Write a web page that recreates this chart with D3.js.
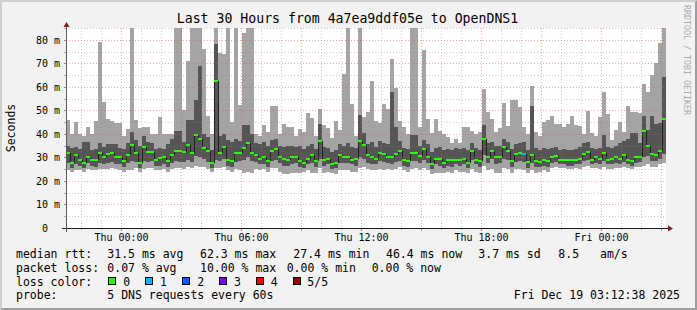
<!DOCTYPE html>
<html><head><meta charset="utf-8">
<script src="https://cdn.jsdelivr.net/npm/d3@7"></script>
<style>
html,body{margin:0;padding:0;background:#f2f2f2;}
svg{display:block;font-family:"DejaVu Sans Mono",monospace;}
</style></head><body>
<svg id="c" width="697" height="310"></svg>
<script>
// ---------------- data ----------------
const titleText = "Last 30 Hours from 4a7ea9ddf05e to OpenDNS1";
const yAxisTitle = "Seconds";
const watermark = "RRDTOOL / TOBI OETIKER";
const startTime = new Date(2025, 11, 17, 21, 12, 38);
const endTime   = new Date(2025, 11, 19, 3, 12, 38);
const firstStep = new Date(2025, 11, 17, 21, 12, 0);
const stepMinutes = 12;
const yTickValues = [0, 10, 20, 30, 40, 50, 60, 70, 80];
const yTickLabels = ["0", "10 m", "20 m", "30 m", "40 m", "50 m", "60 m", "70 m", "80 m"];
const xTickLabels = ["Thu 00:00", "Thu 06:00", "Thu 12:00", "Thu 18:00", "Fri 00:00"];

// rtt values in ms per 12-minute step (values above 85 are clipped off the chart)
const minRtt = [
24.5,24.0,24.5,24.5,24.0,25.0,24.5,24.5,25.0,25.0,
25.0,25.5,25.0,24.5,24.0,24.5,24.5,25.5,24.0,25.0,
25.5,25.5,24.5,24.5,25.0,24.0,25.0,25.5,25.5,25.0,
26.0,25.5,26.5,26.0,26.0,25.0,24.0,25.5,25.5,26.0,
24.5,24.0,25.0,24.5,23.5,24.0,23.5,25.0,24.5,25.0,
24.0,25.5,25.5,24.0,23.0,23.0,23.5,23.5,23.5,24.0,
24.5,23.5,23.5,25.5,23.5,24.0,23.5,23.0,24.5,24.5,
24.5,24.0,24.0,25.5,26.0,25.0,24.5,24.5,25.0,24.5,
25.0,24.5,25.0,26.0,24.5,24.0,25.0,25.5,24.5,25.5,
24.5,23.0,23.5,23.5,23.5,24.0,23.5,24.5,24.0,24.0,
23.5,25.0,24.0,23.5,26.5,24.5,25.0,23.5,23.5,25.5,
25.0,23.5,25.0,25.0,24.5,23.5,24.5,23.5,24.0,24.5,
24.0,25.5,26.0,25.5,25.5,25.0,25.0,25.5,25.0,26.0,
26.5,25.5,25.5,25.0,26.0,25.0,25.0,25.5,25.5,26.0,
25.5,25.0,26.0,26.0,26.5,27.0,26.0,26.0,27.0,27.5];
const lowRtt = [
27.5,25.5,27.0,26.5,25.5,27.5,26.5,26.0,27.5,27.0,
27.5,28.0,27.0,27.0,26.0,27.5,28.5,28.0,25.5,28.5,
28.0,28.5,26.5,26.5,27.0,26.0,27.5,28.5,28.0,28.0,
29.0,28.0,30.5,30.0,29.5,28.0,25.5,29.0,28.5,29.5,
26.5,26.0,28.0,28.5,29.0,30.0,28.5,28.0,27.0,27.0,
26.0,28.5,29.0,27.5,26.5,26.5,27.0,27.5,26.0,25.5,
27.0,27.5,26.0,29.5,26.5,27.0,25.0,25.5,27.5,27.5,
27.5,27.0,26.5,30.0,29.5,27.5,27.0,27.0,28.5,28.0,
27.5,27.0,28.0,28.5,26.5,26.0,28.5,28.5,27.5,29.0,
27.5,25.0,27.0,26.5,25.5,26.5,26.0,27.0,26.5,27.0,
25.5,29.0,27.0,26.0,31.0,27.5,29.5,27.0,27.5,29.5,
29.0,26.0,28.0,28.5,28.0,25.5,27.5,26.0,26.0,26.5,
26.0,27.5,28.0,27.0,27.0,26.5,26.5,27.0,27.0,28.5,
29.0,27.0,27.5,27.0,28.5,27.0,27.0,27.5,27.0,28.0,
27.0,26.5,27.5,28.0,30.0,30.5,28.5,28.5,29.5,31.5];
const medianRtt = [
32.0,27.6,30.9,29.1,27.6,30.3,29.1,29.1,32.0,30.0,
31.3,32.0,30.3,30.0,28.6,30.9,35.1,31.7,27.6,34.6,
32.1,32.1,29.1,29.6,30.0,28.6,30.9,32.9,32.9,32.3,
35.1,31.7,39.4,37.7,33.9,32.6,27.7,62.3,32.0,34.3,
29.1,28.6,31.7,31.7,33.9,36.0,32.0,31.1,29.4,30.3,
28.6,32.9,33.7,30.0,29.4,29.1,30.0,30.0,28.6,27.7,
29.4,30.9,28.3,37.1,29.1,29.4,27.4,27.7,30.9,30.3,
30.3,29.1,29.4,36.9,35.1,30.9,30.3,29.4,32.0,31.4,
30.3,30.0,31.3,32.6,29.1,28.6,31.7,32.0,30.6,33.7,
30.3,27.0,29.4,29.4,27.7,28.9,28.9,29.1,28.9,29.4,
27.7,32.6,29.1,28.3,38.0,30.0,32.9,30.0,30.0,34.3,
32.6,28.6,31.3,31.7,31.3,28.1,30.9,28.3,28.1,29.0,
28.3,30.0,30.6,29.1,29.1,29.1,28.9,29.1,29.4,31.3,
32.1,29.1,30.0,29.4,31.7,29.1,29.4,30.3,29.4,30.9,
29.1,28.6,30.0,30.3,41.4,34.9,31.3,30.9,32.6,46.4];
const highRtt = [
35.0,34.0,34.5,33.5,36.5,36.7,33.0,33.5,36.0,34.5,
35.7,35.7,35.5,34.0,33.5,36.0,40.6,37.4,35.0,38.9,
36.5,36.0,33.5,34.0,33.5,35.5,38.0,41.4,41.4,36.7,
45.7,45.7,54.3,69.0,40.0,38.5,33.0,78.0,39.0,40.0,
37.5,36.5,38.0,37.0,43.9,43.9,40.0,36.0,35.5,36.5,
35.0,37.4,38.0,35.0,34.5,35.0,35.0,34.5,35.0,33.5,
35.0,35.5,33.5,44.1,34.5,34.0,32.5,33.0,35.5,35.0,
36.0,34.5,34.0,48.1,40.3,35.5,36.5,34.5,37.0,36.0,
35.5,57.7,43.0,37.0,34.0,33.5,39.6,39.6,35.0,37.5,
35.5,32.5,34.0,34.5,33.0,33.5,33.0,34.0,33.5,34.0,
33.0,36.0,34.0,33.0,43.7,36.0,36.5,35.0,35.0,38.0,
36.5,33.5,35.5,36.0,36.5,33.0,51.7,34.0,33.0,34.0,
33.5,34.0,34.5,33.0,33.5,33.0,33.0,33.5,34.5,36.0,
36.5,34.0,33.5,34.0,39.6,34.5,34.0,35.0,36.0,37.0,
38.0,40.3,40.3,36.0,47.7,41.7,47.7,44.0,44.6,64.3];
const maxRtt = [
46.0,40.0,45.0,40.0,39.0,43.0,40.0,45.5,79.0,53.5,
46.5,45.5,44.5,44.5,39.0,42.0,95.0,46.0,42.5,43.0,
43.0,40.0,40.0,47.0,40.0,40.0,40.0,95.0,95.0,50.0,
71.0,95.0,95.0,95.0,76.0,47.5,40.0,95.0,74.5,74.0,
95.0,45.0,95.0,52.3,82.8,95.0,95.0,40.0,39.0,43.7,
41.0,51.7,51.7,40.0,44.0,43.0,43.0,39.0,42.0,41.0,
48.9,46.7,39.0,50.6,43.9,42.4,38.1,45.3,41.7,65.3,
95.0,52.6,39.0,95.0,47.3,49.5,62.5,45.3,44.6,52.9,
50.6,72.0,59.6,45.3,43.1,40.0,95.0,95.0,43.0,75.7,
46.5,40.3,46.5,41.4,40.0,38.6,36.3,38.0,36.3,43.1,
43.1,41.4,40.0,40.6,59.1,49.1,46.3,40.6,42.3,53.2,
43.4,54.5,54.5,51.5,43.1,40.0,60.4,40.6,38.9,44.9,
46.0,47.4,44.3,44.3,43.1,44.3,47.7,43.7,43.4,40.0,
49.6,40.3,38.9,47.1,57.7,48.6,37.4,41.7,44.9,40.6,
51.7,49.1,49.1,48.9,61.3,57.6,65.1,70.1,78.6,95.0];
// packet loss in % per step
const lossPct = [
0,0,0,0,0,0,0,0,0,0,0,0,0,0,0,0,0,0,0,0,0,0,0,0,0,0,0,0,0,0,
0,0,0,0,0,0,0,0,0,0,0,0,0,0,0,0,0,0,0,0,0,0,0,0,0,0,0,0,0,0,
0,0,0,0,0,0,0,0,0,0,0,0,0,0,0,0,0,0,0,0,0,0,0,0,0,0,0,0,0,0,
0,0,0,0,0,0,0,0,0,0,0,0,0,0,0,0,0,0,0,0,0,0,0,0,10,0,0,0,0,0,
0,0,0,0,0,0,0,0,0,0,0,0,0,0,0,0,0,0,0,0,0,0,0,0,0,0,0,0,0,0];

const lossLabels = ["0", "1", "2", "3", "4", "5/5"];
const lossColors = ["#26ff00", "#00b8ff", "#0059ff", "#7e00ff", "#ff0000", "#a10000"];
const legendRow1 = ["median rtt:", "31.5 ms avg", "62.3 ms max", "27.4 ms min", "46.4 ms now", "3.7 ms sd", "8.5", "am/s"];
const legendRow2 = ["packet loss:", "0.07 % avg", "10.00 % max", "0.00 % min", "0.00 % now"];
const legendRow3 = ["loss color:"];
const legendRow4 = ["probe:", "5 DNS requests every 60s"];
const timestampText = "Fri Dec 19 03:12:38 2025";

// ---------------- layout ----------------
const W = 697, H = 310;
const plot = {x: 66, y: 28, w: 600, h: 200};
const svg = d3.select("#c");

const x = d3.scaleTime().domain([startTime, endTime]).range([plot.x, plot.x + plot.w]);
const y = d3.scaleLinear().domain([0, 85]).range([plot.y + plot.h, plot.y]);
const ry = v => Math.round(y(v));

// frame shading
svg.append("rect").attr("width", W).attr("height", H).attr("fill", "#f2f2f2");
svg.append("path").attr("d", `M0,0H${W}L${W-2},2H2V${H-2}L0,${H}Z`).attr("fill", "#cfcfcf");
svg.append("path").attr("d", `M${W},0V${H}H0L2,${H-2}H${W-2}V2Z`).attr("fill", "#9e9e9e");

// canvas
svg.append("rect").attr("x", plot.x).attr("y", plot.y).attr("width", plot.w).attr("height", plot.h).attr("fill", "#ffffff");

svg.append("clipPath").attr("id", "clip").append("rect")
  .attr("x", plot.x).attr("y", plot.y).attr("width", plot.w).attr("height", plot.h);

const steps = medianRtt.map((m, i) => {
  const t0 = d3.timeMinute.offset(firstStep, i * stepMinutes);
  const t1 = d3.timeMinute.offset(firstStep, (i + 1) * stepMinutes);
  return {i, x0: Math.max(plot.x, Math.round(x(t0))), x1: Math.round(x(t1)),
          min: minRtt[i], lo: lowRtt[i], med: m, hi: highRtt[i], max: maxRtt[i], loss: lossPct[i]};
});

const g = svg.append("g").attr("clip-path", "url(#clip)");
// outer smoke
g.selectAll("rect.outer").data(steps).join("rect").attr("class", "outer")
  .attr("x", d => d.x0).attr("width", d => d.x1 - d.x0)
  .attr("y", d => ry(d.max)).attr("height", d => ry(d.min) - ry(d.max))
  .attr("fill", "#a4a4a4").attr("shape-rendering", "crispEdges");
// inner smoke
g.selectAll("rect.inner").data(steps).join("rect").attr("class", "inner")
  .attr("x", d => d.x0).attr("width", d => d.x1 - d.x0)
  .attr("y", d => ry(d.hi)).attr("height", d => ry(d.lo) - ry(d.hi))
  .attr("fill", "#555555").attr("shape-rendering", "crispEdges");

// grid (on top of data)
const gridG = svg.append("g");
const hGrid = d3.range(5, 86, 5);
gridG.selectAll("line.h").data(hGrid).join("line")
  .attr("x1", plot.x).attr("x2", plot.x + plot.w)
  .attr("y1", d => ry(d) + 0.5).attr("y2", d => ry(d) + 0.5)
  .attr("stroke", d => d % 10 === 0 ? "rgba(222,79,79,0.5)" : "rgba(143,143,143,0.45)")
  .attr("stroke-dasharray", "1,2");
const hours = d3.timeHour.range(startTime, endTime);
gridG.selectAll("line.v").data(hours).join("line")
  .attr("x1", d => Math.floor(x(d)) + 0.5).attr("x2", d => Math.floor(x(d)) + 0.5)
  .attr("y1", plot.y).attr("y2", plot.y + plot.h)
  .attr("stroke", d => d.getHours() % 3 === 0 ? "rgba(222,79,79,0.5)" : "rgba(143,143,143,0.45)")
  .attr("stroke-dasharray", "1,2");
// ticks
gridG.selectAll("line.vt").data(hours).join("line")
  .attr("x1", d => Math.floor(x(d)) + 0.5).attr("x2", d => Math.floor(x(d)) + 0.5)
  .attr("y1", plot.y + plot.h).attr("y2", d => plot.y + plot.h + (d.getHours() % 3 === 0 ? 3 : 2))
  .attr("stroke", d => d.getHours() % 3 === 0 ? "rgba(222,79,79,0.8)" : "rgba(143,143,143,0.7)");
gridG.selectAll("line.ht").data(hGrid).join("line")
  .attr("x1", plot.x - 2).attr("x2", plot.x)
  .attr("y1", d => ry(d) + 0.5).attr("y2", d => ry(d) + 0.5)
  .attr("stroke", d => d % 10 === 0 ? "rgba(222,79,79,0.8)" : "rgba(143,143,143,0.7)");

// median staircase line
const medPts = steps.map(d => [d.x0 + 0.5, ry(d.med)]);
medPts.push([steps[steps.length - 1].x1, ry(steps[steps.length - 1].med)]);
g.append("path").attr("d", d3.line().curve(d3.curveStepAfter)(medPts))
  .attr("fill", "none").attr("stroke", "#202020").attr("stroke-width", 1);

// loss-coloured median band
const lossIndex = p => Math.min(5, Math.ceil(p / 100 * 5));
g.selectAll("rect.med").data(steps).join("rect").attr("class", "med")
  .attr("x", d => d.x0).attr("width", d => d.x1 - d.x0)
  .attr("y", d => ry(d.med) - 1).attr("height", 2)
  .attr("fill", d => lossColors[lossIndex(d.loss)]).attr("shape-rendering", "crispEdges");

// axes
svg.append("line").attr("x1", plot.x - 4).attr("x2", plot.x + plot.w + 3)
  .attr("y1", plot.y + plot.h + 0.5).attr("y2", plot.y + plot.h + 0.5).attr("stroke", "#1f1f1f");
svg.append("line").attr("x1", plot.x + 0.5).attr("x2", plot.x + 0.5)
  .attr("y1", plot.y - 2).attr("y2", plot.y + plot.h + 4).attr("stroke", "#5a5a5a");
// arrows
svg.append("path").attr("d", `M${plot.x + 0.5},${plot.y - 6}L${plot.x + 3.5},${plot.y - 1}L${plot.x - 2.5},${plot.y - 1}Z`).attr("fill", "#801f1f");
const ax = plot.x + plot.w;
svg.append("path").attr("d", `M${ax + 7},${plot.y + plot.h + 0.5}L${ax + 2},${plot.y + plot.h - 2.5}L${ax + 2},${plot.y + plot.h + 3.5}Z`).attr("fill", "#801f1f");

// y labels
svg.append("g").selectAll("text").data(yTickValues).join("text")
  .attr("x", (d, i) => yTickLabels[i].length === 1 ? 48 : 60)
  .attr("y", d => ry(d) + 4)
  .attr("text-anchor", "end").attr("font-size", "10px").attr("fill", "#000")
  .text((d, i) => yTickLabels[i]);

// x labels
const labelTimes = hours.filter(h => h.getHours() % 6 === 0);
svg.append("g").selectAll("text").data(labelTimes).join("text")
  .attr("x", d => Math.floor(x(d)) + 0.5).attr("y", 240.5)
  .attr("text-anchor", "middle").attr("font-size", "10px").attr("fill", "#000")
  .text((d, i) => xTickLabels[i]);

// title
svg.append("text").attr("x", 347.5).attr("y", 23.3).attr("text-anchor", "middle")
  .attr("font-size", "13.2px").attr("fill", "#000").text(titleText);
// y axis title
svg.append("text").attr("transform", "translate(15,128) rotate(-90)").attr("text-anchor", "middle")
  .attr("font-size", "11.5px").attr("fill", "#000").text(yAxisTitle);
// watermark
svg.append("text").attr("transform", "translate(683.5,5) rotate(90)")
  .attr("font-size", "8.3px").attr("fill", "#ababab").text(watermark);

// legend
const lg = svg.append("g").attr("font-size", "11.5px").attr("fill", "#000");
const row1X = [16, 107.3, 200, 293.3, 386, 478.3, 558.3, 600];
legendRow1.forEach((t, i) => lg.append("text").attr("x", row1X[i]).attr("y", 258.3).text(t));
const row2X = [16, 107.3, 200, 286.7, 371.7];
legendRow2.forEach((t, i) => lg.append("text").attr("x", row2X[i]).attr("y", 272).text(t));
lg.append("text").attr("x", 16).attr("y", 285.7).text(legendRow3[0]);
const boxX = [108.5, 145.5, 182.5, 219.5, 256.5, 293.5];
const lblX = [123.3, 160, 197.3, 234, 270.7, 307.3];
lossLabels.forEach((t, i) => {
  lg.append("rect").attr("x", boxX[i]).attr("y", 277.5).attr("width", 7).attr("height", 7)
    .attr("fill", lossColors[i]).attr("stroke", "#000").attr("stroke-width", 1);
  lg.append("text").attr("x", lblX[i]).attr("y", 285.7).text(t);
});
lg.append("text").attr("x", 16).attr("y", 299.3).text(legendRow4[0]);
lg.append("text").attr("x", 107.3).attr("y", 299.3).text(legendRow4[1]);
lg.append("text").attr("x", 680).attr("y", 299.3).attr("text-anchor", "end").text(timestampText);
</script>
</body></html>
